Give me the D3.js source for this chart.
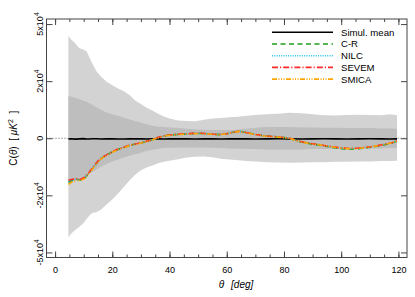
<!DOCTYPE html>
<html>
<head>
<meta charset="utf-8">
<script src="https://cdn.jsdelivr.net/npm/d3@7"></script>
<style>
  body { margin: 0; background: #fff; }
  svg { font-family: "Liberation Sans", Arial, Helvetica, sans-serif; }
</style>
</head>
<body>
<div id="canvas"></div>
<script>
// angular separation (deg) for the map curves
const theta = [4.65, 6, 7.5, 9, 10.5, 12, 13.5, 15, 16.5, 18, 20, 22, 24, 26, 28, 30, 33, 36, 39, 42, 45, 48, 51, 54, 57, 60, 62, 64, 66, 68, 70, 73, 76, 79, 82, 85, 88, 91, 94, 97, 100, 103, 106, 109, 112, 115, 118, 119.5];

const crVals = [-14700, -14000, -13600, -13800, -12900, -11000, -9000, -7200, -5900, -5100, -4100, -3300, -2700, -2100, -1700, -1350, -700, 200, 800, 1050, 1200, 1350, 1400, 1250, 1050, 1300, 1700, 2050, 1800, 1450, 1100, 700, 500, 300, 0, -850, -1450, -1850, -2250, -2700, -3100, -3250, -3100, -2800, -2400, -1950, -1300, -850];
const nilcVals = [-14600, -13900, -13500, -13700, -12800, -10900, -8900, -7100, -5850, -5050, -4050, -3250, -2650, -2100, -1700, -1350, -700, 200, 800, 1050, 1200, 1350, 1400, 1250, 1050, 1300, 1700, 2050, 1800, 1450, 1100, 700, 500, 300, 0, -800, -1400, -1750, -2150, -2550, -2900, -3050, -2950, -2700, -2300, -1850, -1250, -800];
const sevemVals = [-13900, -13500, -13300, -13500, -12600, -10800, -8800, -7000, -5800, -5000, -4000, -3200, -2650, -2050, -1650, -1300, -650, 250, 850, 1100, 1250, 1400, 1450, 1250, 1050, 1300, 1700, 2050, 1800, 1450, 1100, 700, 500, 300, 0, -800, -1350, -1700, -2100, -2500, -2850, -3000, -2900, -2650, -2250, -1800, -1200, -700];
const smicaVals = [-15500, -14500, -13900, -14000, -13100, -11200, -9200, -7400, -6000, -5200, -4150, -3350, -2750, -2150, -1750, -1400, -750, 150, 750, 1000, 1150, 1300, 1350, 1200, 1000, 1250, 1650, 2000, 1750, 1400, 1050, 650, 450, 250, -50, -850, -1400, -1750, -2150, -2550, -2900, -3050, -2950, -2700, -2300, -1850, -1250, -800];

// simulations: mean and confidence bands
const bandTheta = [4.65, 5.5, 7, 8.5, 10, 11, 12, 13, 14.5, 16, 18, 20, 22, 24, 26, 28, 30, 32, 34, 36, 38, 40, 43, 46, 49, 52, 55, 58, 61, 64, 67, 70, 74, 78, 82, 86, 90, 94, 98, 102, 106, 110, 114, 117, 119.5];
const outerHi = [42700, 41000, 38500, 35800, 35000, 34200, 31000, 28000, 24300, 22000, 19700, 18300, 17000, 15900, 14400, 12300, 11000, 9700, 8700, 7600, 6700, 6000, 5400, 5200, 5100, 5600, 6000, 6200, 6400, 6600, 6900, 7200, 7400, 7600, 7900, 7800, 7400, 7100, 7000, 7200, 7300, 7200, 7100, 7400, 7100];
const outerLo = [-41000, -39000, -36700, -35000, -33000, -31000, -29200, -28000, -27500, -26500, -24000, -21800, -19200, -16500, -14000, -11800, -10200, -9200, -8500, -7800, -7300, -6900, -6400, -5900, -5600, -5500, -5800, -6300, -6500, -6800, -7000, -7200, -7400, -7500, -7600, -7500, -7400, -7400, -7300, -7300, -7200, -7200, -7000, -7000, -6900];
const innerHi = [14000, 13800, 13300, 12800, 12200, 11800, 11300, 10700, 9800, 9000, 8000, 7400, 6900, 6300, 5700, 5200, 4700, 4200, 3700, 3400, 3300, 3200, 3000, 2800, 2600, 2500, 2400, 2400, 2400, 2600, 2900, 3100, 3300, 3300, 3300, 3200, 3200, 3100, 3100, 3000, 3000, 3000, 2900, 2900, 2800];
const innerLo = [-15000, -14600, -13900, -13200, -12500, -12000, -11400, -10800, -9900, -9000, -8000, -7200, -6500, -5900, -5300, -4800, -4300, -3800, -3400, -3100, -2900, -2800, -2700, -2700, -2700, -2700, -2800, -2900, -3000, -3100, -3200, -3200, -3300, -3300, -3300, -3300, -3200, -3200, -3100, -3100, -3000, -3000, -3000, -2900, -2900];
const simMean = [-200, -150, -250, -180, -120, -200, -220, -160, -140, -200, -180, -150, -200, -220, -170, -150, -190, -210, -160, -180, -200, -170, -150, -190, -210, -180, -160, -200, -190, -150, -170, -200, -180, -160, -190, -210, -170, -150, -180, -200, -190, -160, -180, -200, -170];

const xTicks = [0, 20, 40, 60, 80, 100, 120];
const yTicks = [50000, 20000, 0, -20000, -50000];
const yTickMant = ["5x10", "2x10", "0", "-2x10", "-5x10"];

const W = 415, H = 297;
const m = { left: 46.5, right: 407, top: 19, bottom: 257.5 };

const svg = d3.select("#canvas").append("svg")
  .attr("width", W).attr("height", H);

const x = d3.scaleLinear().domain([-3, 123]).range([m.left, m.right]);
const y = d3.scaleSymlog().constant(40000).domain([-53300, 53300]).range([m.bottom, m.top]);

const bands = bandTheta.map((t, i) => ({
  t: t, oh: outerHi[i], ol: outerLo[i], ih: innerHi[i], il: innerLo[i], mean: simMean[i]
}));

// zero reference line
svg.append("line")
  .attr("x1", m.left).attr("x2", m.right)
  .attr("y1", y(0)).attr("y2", y(0))
  .attr("stroke", "#555").attr("stroke-width", 1)
  .attr("stroke-dasharray", "1,2");

svg.append("path").datum(bands)
  .attr("fill", "#d3d3d3")
  .attr("d", d3.area().x(d => x(d.t)).y0(d => y(d.ol)).y1(d => y(d.oh)));
svg.append("path").datum(bands)
  .attr("fill", "#bebebe")
  .attr("d", d3.area().x(d => x(d.t)).y0(d => y(d.il)).y1(d => y(d.ih)));

svg.append("path").datum(bands)
  .attr("fill", "none").attr("stroke", "#000").attr("stroke-width", 1.6)
  .attr("d", d3.line().x(d => x(d.t)).y(d => y(d.mean)));

const series = [
  { name: "C-R", values: crVals, color: "#1f9e1f", dash: "5,3.5" },
  { name: "NILC", values: nilcVals, color: "#22c4ee", dash: "1,1.3" },
  { name: "SEVEM", values: sevemVals, color: "#ff2a2a", dash: "6,2,1.2,2" },
  { name: "SMICA", values: smicaVals, color: "#ffa500", dash: "5,1.5,1,1.5,1,1.5,1,1.5" }
];

const line = d3.line().x(d => x(d[0])).y(d => y(d[1]));
series.forEach(s => {
  svg.append("path").datum(d3.zip(theta, s.values))
    .attr("fill", "none").attr("stroke", s.color).attr("stroke-width", 1.6)
    .attr("stroke-dasharray", s.dash)
    .attr("d", line);
});

// frame
svg.append("rect")
  .attr("x", m.left).attr("y", m.top)
  .attr("width", m.right - m.left).attr("height", m.bottom - m.top)
  .attr("fill", "none").attr("stroke", "#444").attr("stroke-width", 1);

const minor = d3.range(0, 121, 5);
function styleAxis(g) {
  g.select(".domain").remove();
  g.selectAll("line").attr("stroke", "#444");
}
svg.append("g").attr("transform", `translate(0,${m.bottom})`)
  .call(d3.axisBottom(x).tickValues(minor).tickSize(-3).tickFormat("")).call(styleAxis);
svg.append("g").attr("transform", `translate(0,${m.bottom})`)
  .call(d3.axisBottom(x).tickValues(xTicks).tickSize(-6).tickPadding(9)
    .tickFormat(d3.format("d")))
  .call(styleAxis)
  .call(g => g.selectAll("text").attr("font-size", 9).attr("fill", "#000")
    .attr("font-family", "Liberation Sans, Arial, sans-serif"));
svg.append("g").attr("transform", `translate(0,${m.top})`)
  .call(d3.axisTop(x).tickValues(minor).tickSize(-3).tickFormat("")).call(styleAxis);
svg.append("g").attr("transform", `translate(0,${m.top})`)
  .call(d3.axisTop(x).tickValues(xTicks).tickSize(-6).tickFormat("")).call(styleAxis);
svg.append("g").attr("transform", `translate(${m.left},0)`)
  .call(d3.axisLeft(y).tickValues(yTicks).tickSize(-6).tickFormat("")).call(styleAxis);
svg.append("g").attr("transform", `translate(${m.right},0)`)
  .call(d3.axisRight(y).tickValues(yTicks).tickSize(-6).tickFormat("")).call(styleAxis);

// rotated y tick labels with superscript exponent
yTicks.forEach((v, i) => {
  const t = svg.append("text")
    .attr("transform", `translate(43,${y(v)}) rotate(-90)`)
    .attr("text-anchor", "middle").attr("font-size", 9).attr("fill", "#000");
  t.append("tspan").text(yTickMant[i]);
  if (v !== 0) t.append("tspan").attr("dy", -4).attr("font-size", 6.5).text("4");
});

// axis titles
const yt = svg.append("text")
  .attr("transform", `translate(17,${(m.top + m.bottom) / 2}) rotate(-90)`)
  .attr("text-anchor", "middle").attr("font-size", 10).attr("xml:space", "preserve");
yt.append("tspan").text("C(");
yt.append("tspan").attr("font-style", "italic").text("θ");
yt.append("tspan").text(")  [ ");
yt.append("tspan").attr("font-style", "italic").text("μK");
yt.append("tspan").attr("dy", -4).attr("font-size", 7).text("2");
yt.append("tspan").attr("dy", 4).text("  ]");

const xt = svg.append("text")
  .attr("x", 236).attr("y", 288)
  .attr("text-anchor", "middle").attr("font-size", 10).attr("font-style", "italic");
xt.append("tspan").text("θ");
xt.append("tspan").attr("dx", 7).text("[deg]");

// legend
const legend = [{ name: "Simul. mean", color: "#000", dash: null }].concat(series);
legend.forEach((s, i) => {
  const ly = 32.3 + i * 11.7;
  svg.append("line")
    .attr("x1", 272).attr("x2", 333).attr("y1", ly).attr("y2", ly)
    .attr("stroke", s.color).attr("stroke-width", 1.6)
    .attr("stroke-dasharray", s.dash);
  svg.append("text")
    .attr("x", 341).attr("y", ly + 3.4)
    .attr("font-size", 9.6).attr("fill", "#000").text(s.name);
});
</script>
</body>
</html>
